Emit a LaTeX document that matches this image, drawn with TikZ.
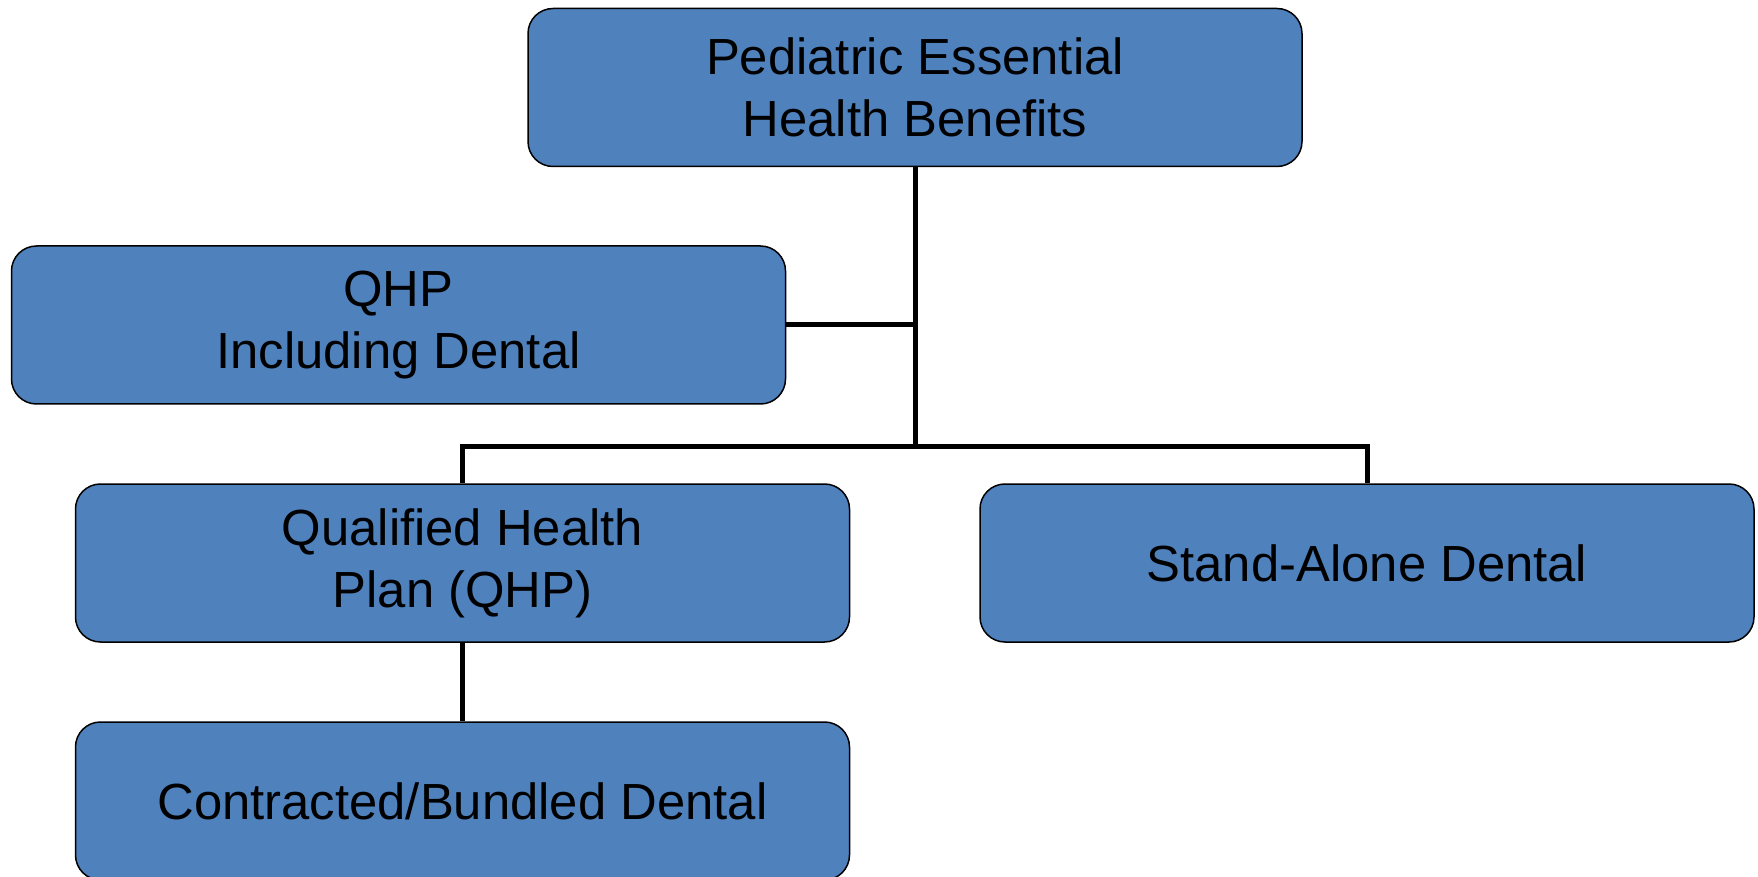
\documentclass[tikz,border=0pt]{standalone}
\usepackage{fontspec}
\setmainfont{Liberation Sans}
\definecolor{boxblue}{HTML}{4F81BD}
\tikzset{
	benefitbox/.style={
		draw=black, fill=boxblue, line width=0.75pt, rounded corners=12.5pt,
		minimum width=387pt, minimum height=79pt, inner sep=0pt,
		align=center, font={\fontsize{25.4}{31}\selectfont}
	},
	link/.style={draw=black, line width=2.5pt},
}
\begin{document}
\begin{tikzpicture}[
x=0.5pt, y=-0.5pt,
]
\useasboundingbox (0,0) rectangle (1758,877);
\node [benefitbox] (pheb) at (915,87.5) {Pediatric Essential\\Health Benefits};
\node [benefitbox] (qhpd) at (398.5,325) {QHP\\Including Dental};
\node [benefitbox] (qhp) at (462.5,563) {Qualified Health\\Plan (QHP)};
\node [benefitbox] (sad) at (1367,563) {Stand-Alone Dental};
\node [benefitbox] (cbd) at (462.5,801) {Contracted/Bundled Dental};
\coordinate (hub) at (915,447);
%\coordinate (branch) at (915,325);
\path [link] (pheb.south) -- (hub);
\path [link] (qhpd.east) -- (qhpd.east -| hub);
\path [link] (qhp.north) |- (hub) -| (sad.north);
\path [link] (qhp.south) -- (cbd.north);
\end{tikzpicture}
\end{document}
